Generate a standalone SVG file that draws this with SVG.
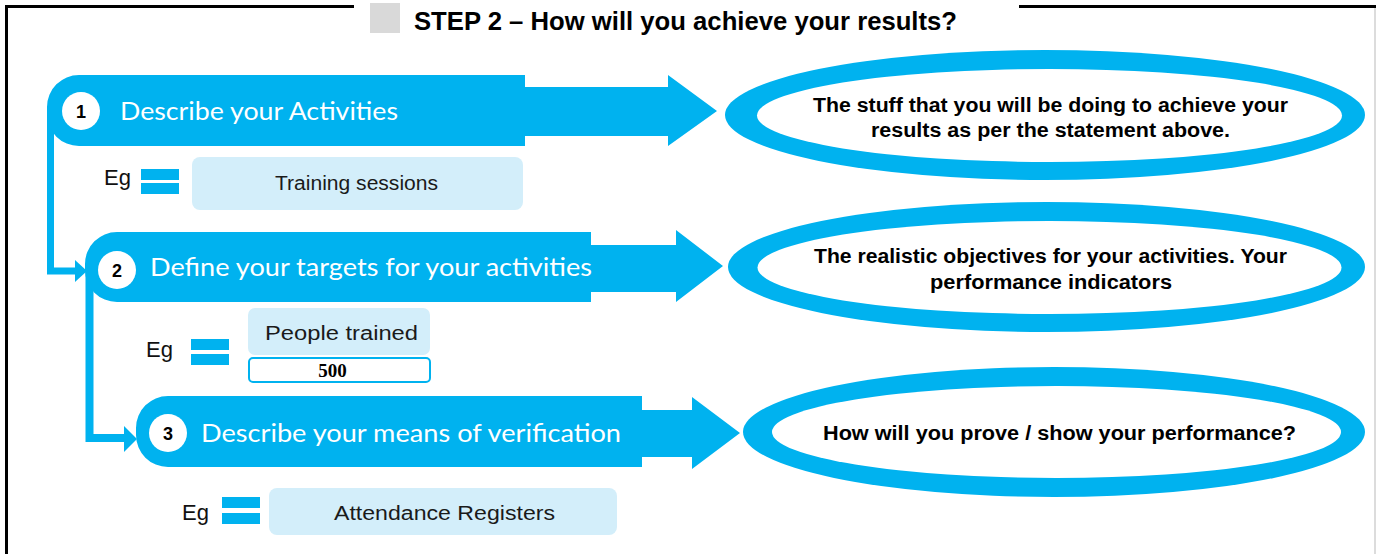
<svg xmlns="http://www.w3.org/2000/svg" width="1376" height="554" viewBox="0 0 1376 554">
<style>
.blue{fill:#00b2ef}
.ring{fill:#00b2ef}
.hole{fill:#ffffff}
.ban{font-family:Lato,"Liberation Sans",sans-serif;font-size:25px;fill:#ffffff}
.num{font-family:"Liberation Sans",Arial,sans-serif;font-weight:bold;font-size:18px;fill:#000;text-anchor:middle}
.desc{font-family:"Liberation Sans",Arial,sans-serif;font-weight:bold;font-size:20px;fill:#000;text-anchor:middle}
.eg{font-family:"Liberation Sans",Arial,sans-serif;font-size:22px;fill:#111}
.box{fill:#d3eefa}
.boxt{font-family:"Liberation Sans",Arial,sans-serif;font-size:20px;fill:#1a1a1a;text-anchor:middle}
.conn{fill:none;stroke:#00b2ef}
</style>
<rect width="1376" height="554" fill="#ffffff"/>
<g id="frame">
<line x1="5" y1="6.5" x2="354" y2="6.5" stroke="#000" stroke-width="3"/>
<line x1="1019" y1="6.5" x2="1376" y2="6.5" stroke="#000" stroke-width="3"/>
<line x1="6.5" y1="5" x2="6.5" y2="554" stroke="#000" stroke-width="3"/>
<line x1="1375" y1="8" x2="1375" y2="554" stroke="#d0d0d0" stroke-width="1.5"/>
</g>
<g id="title">
<rect x="370" y="3" width="30" height="30" fill="#d9d9d9"/>
<text x="414" y="29.5" font-family="'Liberation Sans',Arial,sans-serif" font-weight="bold" font-size="25" fill="#000" textLength="543" lengthAdjust="spacingAndGlyphs">STEP 2 – How will you achieve your results?</text>
</g>
<g id="connectors">
<path class="conn" stroke-width="7" d="M50.5 111 V271 H77"/>
<polygon class="blue" points="75,260 87,271 75,282"/>
<path class="conn" stroke-width="8" d="M89.5 266 V438 H125"/>
<polygon class="blue" points="124,426 137,439 124,452"/>
</g>
<g id="step1">
<path class="blue" d="M79 75 H525 V87 H668 V75 L717 111 L668 146 V136 H525 V146 H79 A32 32 0 0 1 47 114 V107 A32 32 0 0 1 79 75 Z"/>
<circle cx="81" cy="111" r="19" fill="#fff"/>
<text class="num" x="81" y="117.5">1</text>
<text class="ban" x="120" y="119.5" textLength="278" lengthAdjust="spacingAndGlyphs">Describe your Activities</text>
</g>
<g id="step2">
<path class="blue" d="M117 232 H591 V245 H676 V230 L723 266 L676 302 V292 H591 V302 H117 A32 32 0 0 1 85 270 V264 A32 32 0 0 1 117 232 Z"/>
<circle cx="117" cy="270" r="19" fill="#fff"/>
<text class="num" x="117" y="276.5">2</text>
<text class="ban" x="150" y="276" textLength="442" lengthAdjust="spacingAndGlyphs">Define your targets for your activities</text>
</g>
<g id="step3">
<path class="blue" d="M168 396 H642 V410 H692 V397 L740 433 L692 469 V457 H642 V467 H168 A32 32 0 0 1 136 435 V428 A32 32 0 0 1 168 396 Z"/>
<circle cx="168" cy="433" r="19" fill="#fff"/>
<text class="num" x="168" y="439.5">3</text>
<text class="ban" x="201" y="442" textLength="420" lengthAdjust="spacingAndGlyphs">Describe your means of verification</text>
</g>
<g id="desc1">
<ellipse class="ring" cx="1045" cy="115" rx="320" ry="65"/>
<ellipse class="hole" cx="1049.5" cy="115.5" rx="292.5" ry="46.5"/>
<text class="desc" x="1050.5" y="112" textLength="475" lengthAdjust="spacingAndGlyphs">The stuff that you will be doing to achieve your</text>
<text class="desc" x="1050.5" y="137" textLength="359" lengthAdjust="spacingAndGlyphs">results as per the statement above.</text>
</g>
<g id="desc2">
<ellipse class="ring" cx="1046.5" cy="267" rx="318.5" ry="65"/>
<ellipse class="hole" cx="1049.5" cy="267.5" rx="292" ry="46.5"/>
<text class="desc" x="1050.5" y="263" textLength="473" lengthAdjust="spacingAndGlyphs">The realistic objectives for your activities. Your</text>
<text class="desc" x="1051" y="289" textLength="242" lengthAdjust="spacingAndGlyphs">performance indicators</text>
</g>
<g id="desc3">
<ellipse class="ring" cx="1054" cy="432" rx="311" ry="65"/>
<ellipse class="hole" cx="1056.5" cy="432" rx="284.5" ry="46"/>
<text class="desc" x="1059.5" y="440" textLength="473" lengthAdjust="spacingAndGlyphs">How will you prove / show your performance?</text>
</g>
<g id="eg1">
<text class="eg" x="104" y="185">Eg</text>
<rect class="blue" x="141" y="169" width="38" height="11"/>
<rect class="blue" x="141" y="183" width="38" height="11"/>
<rect class="box" x="192" y="157" width="331" height="53" rx="8"/>
<text class="boxt" x="356.5" y="190" textLength="163" lengthAdjust="spacingAndGlyphs">Training sessions</text>
</g>
<g id="eg2">
<text class="eg" x="146" y="357">Eg</text>
<rect class="blue" x="191" y="339" width="38" height="11"/>
<rect class="blue" x="191" y="354" width="38" height="11"/>
<rect class="box" x="248" y="308" width="182" height="47" rx="7"/>
<text class="boxt" x="341.5" y="340" textLength="153" lengthAdjust="spacingAndGlyphs">People trained</text>
<rect x="249" y="358" width="181" height="24" rx="4" fill="#fff" stroke="#00b2ef" stroke-width="2"/>
<text x="332.5" y="377" font-family="'Liberation Serif','Times New Roman',serif" font-weight="bold" font-size="19" fill="#000" text-anchor="middle">500</text>
</g>
<g id="eg3">
<text class="eg" x="182" y="520">Eg</text>
<rect class="blue" x="222" y="497" width="38" height="11"/>
<rect class="blue" x="222" y="513" width="38" height="11"/>
<rect class="box" x="269" y="488" width="348" height="47" rx="8"/>
<text class="boxt" x="444.5" y="520" textLength="221" lengthAdjust="spacingAndGlyphs">Attendance Registers</text>
</g>
</svg>
